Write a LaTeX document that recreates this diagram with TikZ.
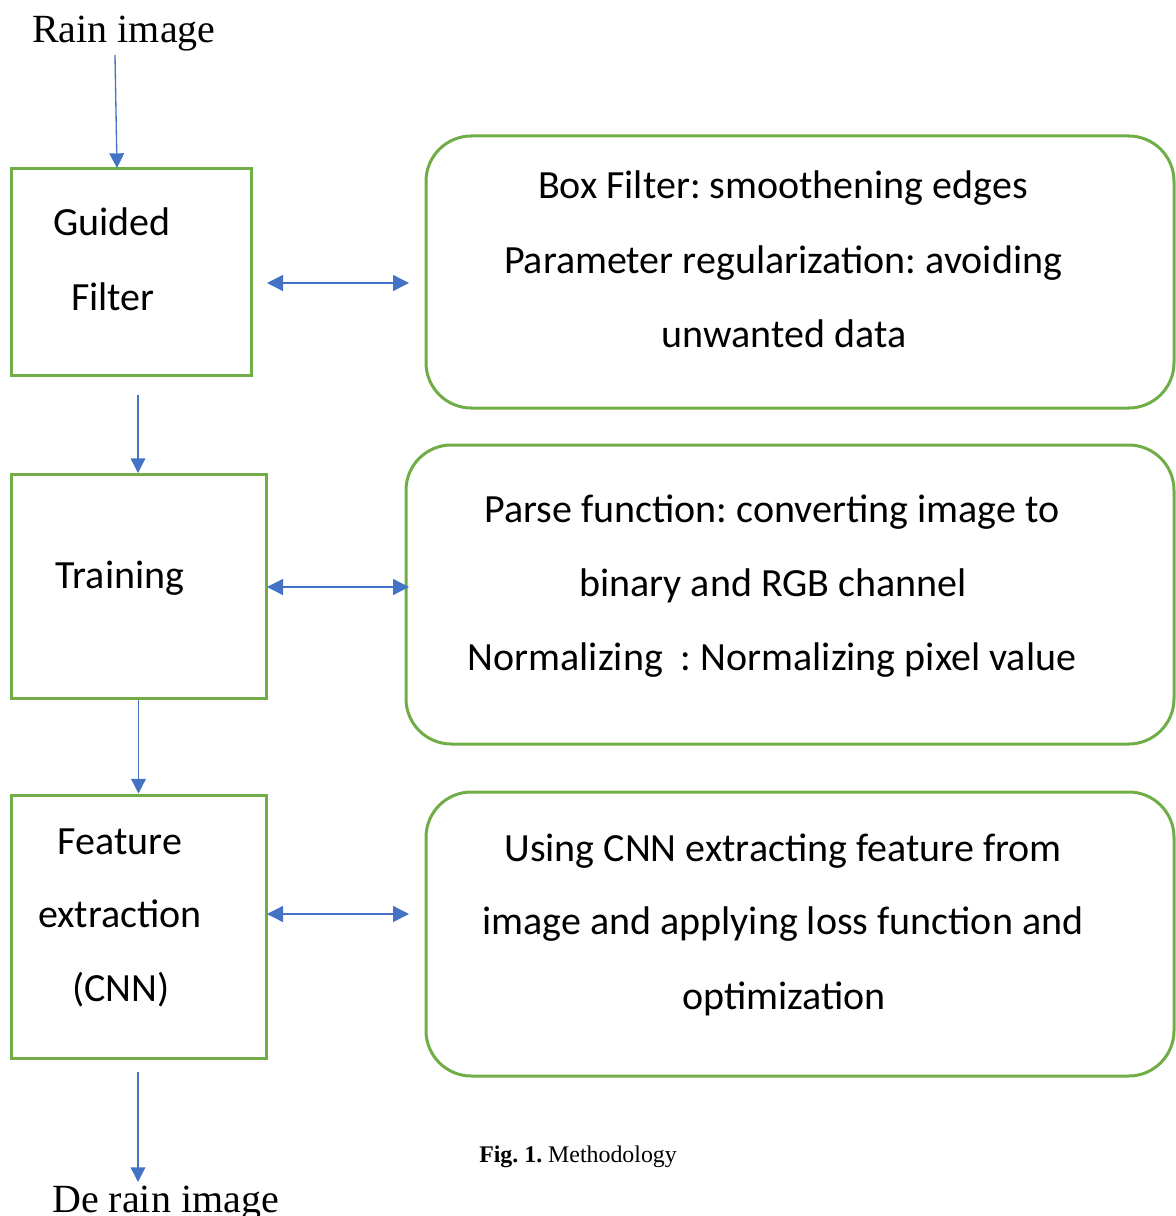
\documentclass[tikz,border=0pt]{standalone}
\usepackage{fontspec}
\setmainfont{Liberation Serif}
\newfontfamily\calibri{Carlito}
\usetikzlibrary{arrows.meta}
\definecolor{boxgreen}{HTML}{70AD47}
\definecolor{arrowblue}{HTML}{4472C4}
\frenchspacing

\begin{document}
\begin{tikzpicture}[x=0.75pt,y=-0.75pt,
  stage/.style={draw=boxgreen, line width=2.25pt, inner sep=0pt},
  note/.style={stage, rounded corners=34pt},
  lbl/.style={font=\calibri\fontsize{30}{36}\selectfont, anchor=base, inner sep=0pt},
  flow/.style={draw=arrowblue, line width=1pt, -{Triangle[width=11pt,length=11pt]}},
  link/.style={draw=arrowblue, line width=1pt, {Triangle[width=12pt,length=12pt]}-{Triangle[width=12pt,length=12pt]}},
]
\useasboundingbox (0,0) rectangle (1175,1216);

% processing stages
\node[stage, minimum width=180pt, minimum height=154.5pt] (b1) at (131,272) {};
\node[stage, minimum width=191.25pt, minimum height=168pt] (b2) at (138.5,586) {};
\node[stage, minimum width=191.25pt, minimum height=197.25pt] (b3) at (138.5,926.5) {};

% explanatory notes
\node[note, minimum width=561pt, minimum height=204pt] (n1) at (800,272) {};
\node[note, minimum width=576pt, minimum height=224.25pt] (n2) at (790,594.5) {};
\node[note, minimum width=561pt, minimum height=213pt] (n3) at (800,934) {};

% stage labels
\node[lbl] (b1a) at (112,235) {Guided};
\node[lbl] (b1b) at (113,310) {Filter};
\node[lbl] (b2a) at (120,588) {Training};
\node[lbl] (b3a) at (120,854) {Feature};
\node[lbl] (b3b) at (120,927) {extraction};
\node[lbl] (b3c) at (121,1001) {(CNN)};

% note texts
\node[lbl] (n1a) at (783,199) {Box Filter: smoothening edges};
\node[lbl] (n1b) at (783,273) {Parameter regularization: avoiding};
\node[lbl] (n1c) at (784,347) {unwanted data};
\node[lbl] (n2a) at (772,522) {Parse function: converting image to};
\node[lbl] (n2b) at (773,596) {binary and RGB channel};
\node[lbl] (n2c) at (772,670) {Normalizing~~: Normalizing pixel value};
\node[lbl] (n3a) at (783,861) {Using CNN extracting feature from};
\node[lbl] (n3b) at (783,934) {image and applying loss function and};
\node[lbl] (n3c) at (784,1009) {optimization};

% input / output
\node[anchor=base west, inner sep=0pt, font=\fontsize{30}{36}\selectfont] (in) at (32,43) {Rain image};
\node[anchor=base west, inner sep=0pt, font=\fontsize{30}{36}\selectfont] (out) at (52,1212) {De rain image};
\node[anchor=base west, inner sep=0pt, font=\fontsize{17.9}{22}\selectfont] (cap) at (479,1162) {\textbf{Fig. 1.} Methodology};

% flow arrows
\coordinate (in0) at (115,55);
\coordinate (in1) at (117,168);
\coordinate (f1) at (138,395);
\coordinate (f2) at (138,473);
\coordinate (o0) at (138,1072);
\coordinate (o1) at (138,1182);
\draw[flow] (in0) -- (in1);
\draw[flow] (f1) -- (f2);
\draw[flow] (b2.south) -- (b3.north);
\draw[flow] (o0) -- (o1);

% stage <-> note links
\coordinate (l1a) at (267,283); \coordinate (l1b) at (409,283);
\coordinate (l2a) at (267,587); \coordinate (l2b) at (409,587);
\coordinate (l3a) at (267,914); \coordinate (l3b) at (409,914);
\draw[link] (l1a) -- (l1b);
\draw[link] (l2a) -- (l2b);
\draw[link] (l3a) -- (l3b);
\end{tikzpicture}
\end{document}
